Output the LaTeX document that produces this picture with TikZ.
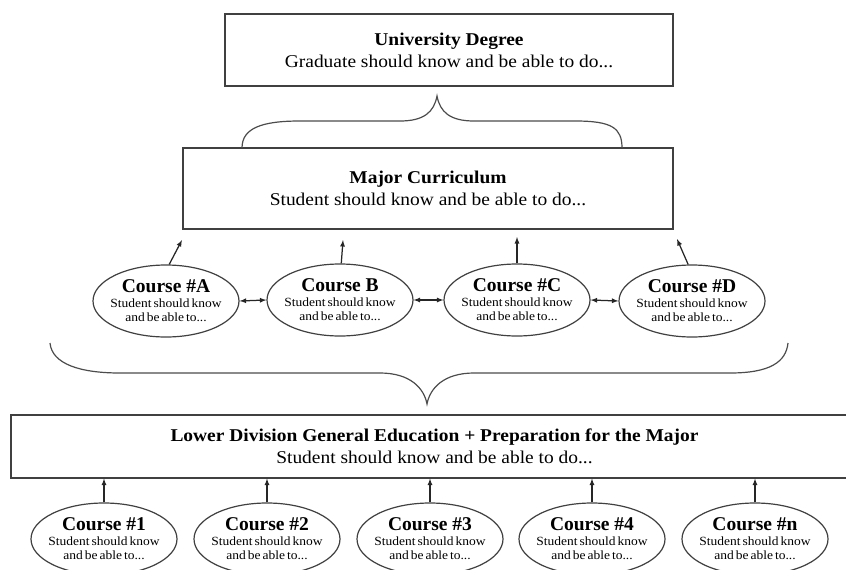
\documentclass[tikz,border=0pt]{standalone}
\usepackage{fontspec}
\setmainfont{Liberation Serif}
\newfontfamily\etire[FakeStretch=1.08]{Liberation Serif}
\usetikzlibrary{shapes.geometric}
\newcommand\serre{\spaceskip=2pt\relax}

\begin{document}
\begin{tikzpicture}[x=1pt,y=-1pt]
% Styles
\tikzstyle{cadre}=[draw=black!75,line width=1.2pt]
\tikzstyle{boite}=[cadre,rectangle,align=center,inner sep=0pt,font=\etire\fontsize{18}{22}\selectfont]
\tikzstyle{cours}=[cadre,ellipse,align=center,inner xsep=-6pt,inner ysep=0pt,minimum width=146pt,minimum height=72pt,font=\etire\fontsize{12.5}{14.5}\selectfont\serre]
\tikzstyle{fleche}=[->,>=latex,draw=black!85,line width=1.25pt]
\tikzstyle{doublefleche}=[<->,>=latex,draw=black!85,line width=1.25pt]
\tikzstyle{accolade}=[draw=black!70,line width=1.2pt]
% Titre des cours
\def\titre#1{{\rmfamily\bfseries\spaceskip=0pt\relax\fontsize{19.5}{17}\selectfont #1}}
% Cadre de l'image
\useasboundingbox (0,0) rectangle (846,570);
% Boites
\node[boite,minimum width=448pt,minimum height=72pt] (diplome) at (449,50) {\textbf{University Degree}\\Graduate should know and be able to do...};
\node[boite,minimum width=490pt,minimum height=81pt] (majeure) at (428,188.5) {\textbf{Major Curriculum}\\Student should know and be able to do...};
\node[boite,minimum width=847pt,minimum height=63pt] (tronc) at (434.5,446.5) {\textbf{Lower Division General Education + Preparation for the Major}\\Student should know and be able to do...};
% Cours de la majeure
\node[cours] (coursA) at (166,301) {\titre{Course \#A}\\Student should know\\and be able to...};
\node[cours] (coursB) at (340,300) {\titre{Course B}\\Student should know\\and be able to...};
\node[cours] (coursC) at (517,300) {\titre{Course \#C}\\Student should know\\and be able to...};
\node[cours] (coursD) at (692,301) {\titre{Course \#D}\\Student should know\\and be able to...};
% Cours du tronc commun
\node[cours] (cours1) at (104,539) {\titre{Course \#1}\\Student should know\\and be able to...};
\node[cours] (cours2) at (267,539) {\titre{Course \#2}\\Student should know\\and be able to...};
\node[cours] (cours3) at (430,539) {\titre{Course \#3}\\Student should know\\and be able to...};
\node[cours] (cours4) at (592,539) {\titre{Course \#4}\\Student should know\\and be able to...};
\node[cours] (coursn) at (755,539) {\titre{Course \#n}\\Student should know\\and be able to...};
% Pointes des fleches vers la majeure
\coordinate (pA) at (182,240);
\coordinate (pB) at (343,240);
\coordinate (pC) at (517,237);
\coordinate (pD) at (677,239);
% Fleches
\draw[fleche] (coursA.85) -- (pA);
\draw[fleche] (coursB.88) -- (pB);
\draw[fleche] (coursC.north) -- (pC);
\draw[fleche] (coursD.96) -- (pD);
\draw[doublefleche] (coursA.east) -- (coursB.west);
\draw[doublefleche] (coursB.east) -- (coursC.west);
\draw[doublefleche] (coursC.east) -- (coursD.west);
\draw[fleche] (cours1.north) -- (cours1.north |- tronc.south);
\draw[fleche] (cours2.north) -- (cours2.north |- tronc.south);
\draw[fleche] (cours3.north) -- (cours3.north |- tronc.south);
\draw[fleche] (cours4.north) -- (cours4.north |- tronc.south);
\draw[fleche] (coursn.north) -- (coursn.north |- tronc.south);
% Accolades
\draw[accolade] (242,148) .. controls (242,128) and (262,121) .. (300,121) -- (400,121) .. controls (424,121) and (434,112) .. (437,96) .. controls (440,112) and (450,121) .. (474,121) -- (575,121) .. controls (612,121) and (622,128) .. (622,148);
\draw[accolade] (50,343) .. controls (52,364) and (80,373) .. (120,373) -- (380,373) .. controls (410,373) and (424,388) .. (427,404) .. controls (430,388) and (444,373) .. (474,373) -- (730,373) .. controls (770,373) and (786,362) .. (788,343);
\end{tikzpicture}
\end{document}
